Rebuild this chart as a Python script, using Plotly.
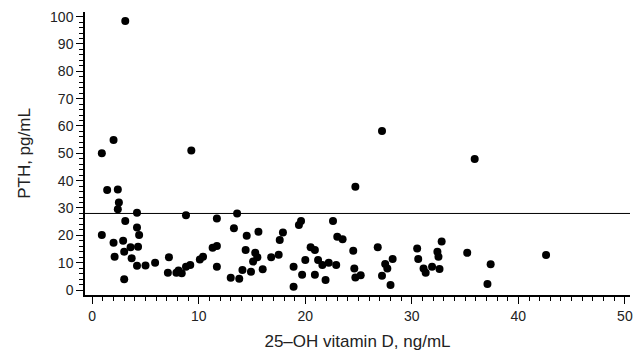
import plotly.graph_objects as go

vitd = [0.9, 1.4, 2.4, 2.5, 2.4, 4.2, 3.1, 4.2, 4.4, 0.9, 2.0, 2.9, 3.6, 4.3, 3.0, 2.1, 3.7, 4.2,
        5.0, 5.9, 3.0, 7.2, 7.1, 7.9, 8.4, 8.1, 8.8, 9.2, 8.8, 9.3, 10.1, 10.4, 11.3, 11.7, 11.7,
        11.7, 13.0, 13.8, 13.6, 13.3, 14.5, 14.4, 14.1, 14.9, 15.1, 15.3, 15.6, 15.5, 16.0, 16.8,
        17.5, 17.6, 17.9, 18.9, 18.9, 19.4, 19.6, 19.7, 20.0, 20.5, 20.9, 20.9, 21.2, 21.6, 21.9,
        22.2, 22.6, 22.9, 23.0, 23.5, 24.7, 24.5, 24.6, 24.7, 25.2, 26.8, 27.2, 27.5, 27.7, 28.0,
        28.2, 30.5, 30.6, 31.1, 31.3, 31.9, 32.4, 32.5, 32.6, 32.8, 35.9, 35.2, 37.4, 37.1, 42.6,
        3.1, 2.0, 27.2]
pth = [50.0, 36.6, 36.8, 32.0, 29.5, 28.3, 25.2, 22.9, 20.1, 20.1, 17.3, 18.0, 15.6, 15.8, 14.0,
       12.2, 11.6, 8.9, 9.0, 10.0, 3.9, 12.0, 6.3, 6.3, 6.1, 7.1, 8.5, 9.1, 27.3, 51.0, 11.2, 12.2,
       15.5, 16.1, 26.2, 8.5, 4.5, 4.1, 28.0, 22.6, 19.8, 14.6, 7.3, 6.7, 10.4, 13.6, 21.3, 12.0,
       7.6, 12.0, 12.9, 18.3, 21.0, 1.2, 8.5, 23.8, 25.2, 5.6, 11.0, 15.6, 14.6, 5.6, 11.0, 9.1,
       3.7, 10.0, 25.2, 9.1, 19.5, 18.6, 37.8, 14.4, 7.9, 4.6, 5.4, 15.6, 5.2, 9.5, 7.9, 1.8, 11.3,
       15.2, 11.3, 7.9, 6.3, 8.5, 14.0, 12.2, 7.7, 17.7, 47.9, 13.6, 9.4, 2.2, 12.8,
       98.4, 54.9, 58.2]
ref_pth = 28
x_ticks = [0, 10, 20, 30, 40, 50]
y_ticks = [0, 10, 20, 30, 40, 50, 60, 70, 80, 90, 100]

fig = go.Figure()
fig.add_trace(go.Scatter(x=vitd, y=pth, mode="markers",
                         marker=dict(color="black", size=8), showlegend=False,
                         hoverinfo="skip"))
fig.add_shape(type="line", xref="paper", x0=0, x1=1, yref="y", y0=ref_pth, y1=ref_pth,
              line=dict(color="black", width=1))

font = dict(family="Liberation Sans, Arial, sans-serif", size=14, color="#222")
fig.update_layout(
    width=637, height=352,
    margin=dict(l=85, r=4, t=12, b=57),
    paper_bgcolor="white", plot_bgcolor="white",
    font=font,
    xaxis=dict(range=[-0.68, 50.48], tickvals=x_ticks, showgrid=False, zeroline=False,
               showline=True, linecolor="black", linewidth=1.5,
               ticks="outside", ticklen=7, tickcolor="black",
               minor=dict(dtick=1, ticks="outside", ticklen=4, tickcolor="black", showgrid=False),
               title=dict(text="25–OH vitamin D, ng/mL", standoff=13)),
    yaxis=dict(range=[-1.83, 101.7], tickvals=y_ticks, showgrid=False, zeroline=False,
               showline=True, linecolor="black", linewidth=1.5,
               ticks="outside", ticklen=7, tickcolor="black",
               minor=dict(dtick=2, ticks="outside", ticklen=4, tickcolor="black", showgrid=False),
               title=dict(text="PTH, pg/mL", standoff=15)),
)
fig.write_html("out.html", config={"displayModeBar": False},
               post_script="document.body.style.margin='0';document.body.style.overflow='hidden';")
